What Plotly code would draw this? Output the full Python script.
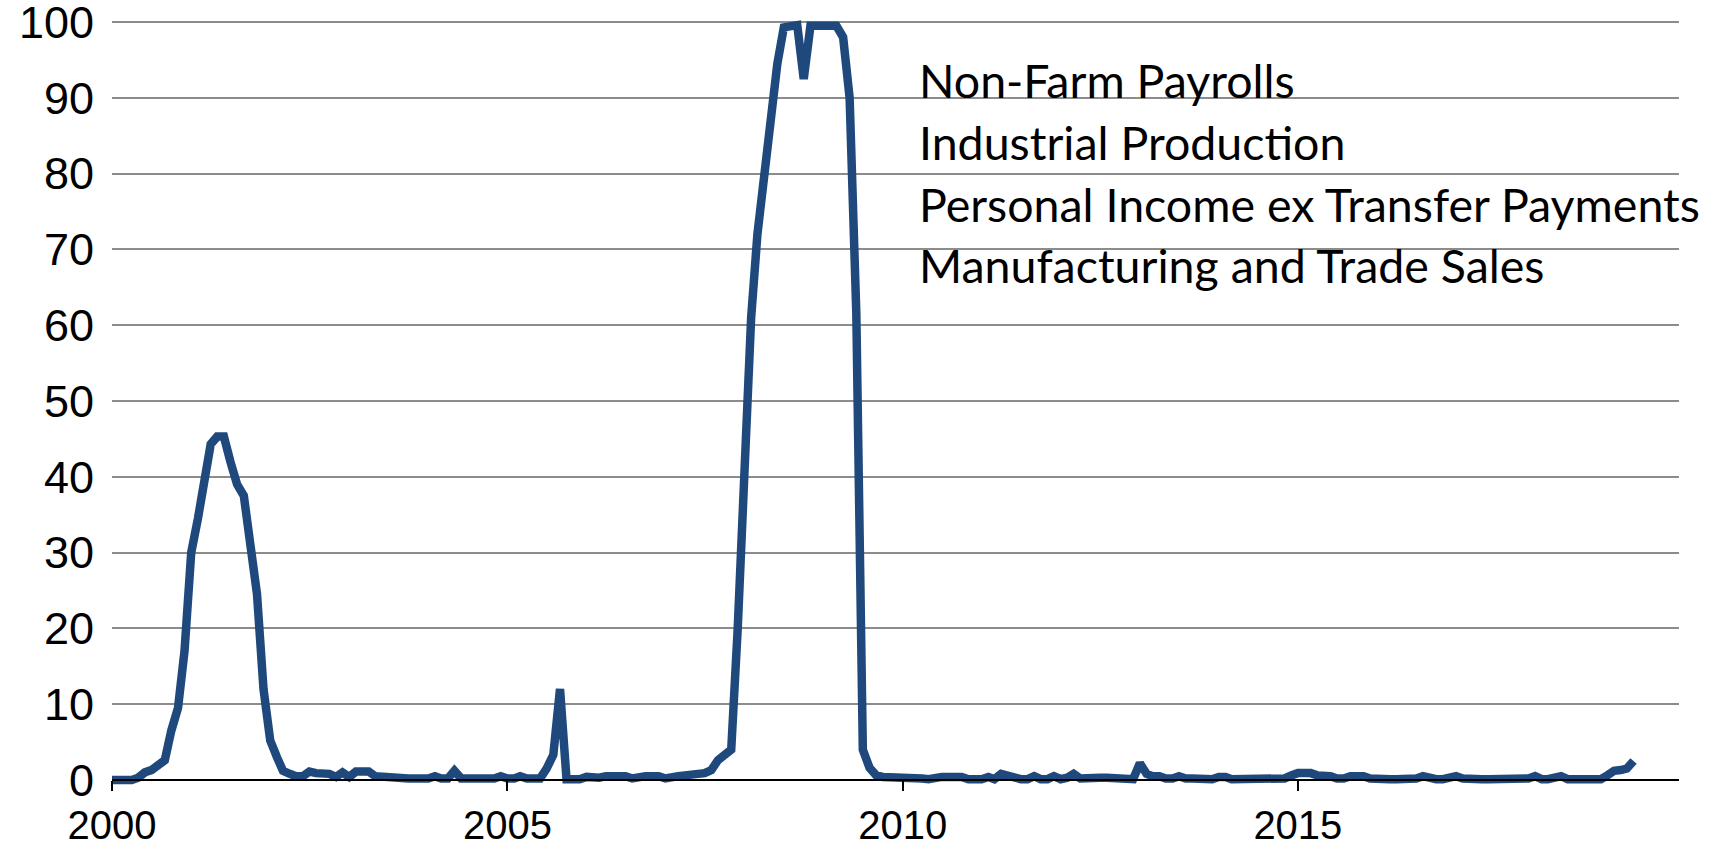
import pandas as pd
import plotly.graph_objects as go

# Monthly values starting January 2000
start_date = "2000-01-01"
probability = [
    0, 0, 0, 0, 0.3, 1.0, 1.3, 1.8, 2.6, 6.5, 9.5, 17,
    30, 34.5, 39, 44.3, 45.3, 45.3, 42, 39, 37.5, 30, 24.5, 12,
    5.2, 3.0, 1.2, 0.8, 0.5, 0.5, 1.1, 0.9, 0.8, 0.8, 0.4, 1.0,
    0.4, 1.1, 1.1, 1.1, 0.5, 0.4, 0.4, 0.4, 0.2, 0.2, 0.2, 0.2,
    0.2, 0.5, 0.2, 0.2, 1.2, 0.2, 0.2, 0.2, 0.2, 0.2, 0.2, 0.5,
    0.2, 0.2, 0.5, 0.2, 0.2, 0.2, 1.5, 3.3, 12.0, 0.1, 0.1, 0.1,
    0.4, 0.2, 0.3, 0.5, 0.5, 0.5, 0.5, 0.2, 0.5, 0.5, 0.5, 0.5,
    0.2, 0.5, 0.5, 0.6, 0.8, 0.8, 0.9, 1.3, 2.6, 3.3, 4.0, 20,
    41, 61, 72, 79.5, 87, 94.5, 99.3, 99.5, 99.6, 92.5, 99.5, 99.5,
    99.5, 99.5, 99.5, 98, 90, 61.5, 4.0, 1.6, 0.6, 0.4, 0.4, 0.4,
    0.4, 0.4, 0.4, 0.2, 0.1, 0.4, 0.4, 0.4, 0.4, 0.4, 0.1, 0.1,
    0.1, 0.4, 0.1, 0.8, 0.5, 0.4, 0.1, 0.1, 0.5, 0.1, 0.1, 0.5,
    0.1, 0.3, 0.8, 0.2, 0.3, 0.3, 0.3, 0.3, 0.3, 0.1, 0.1, 0.1,
    2.2, 0.8, 0.5, 0.5, 0.2, 0.2, 0.5, 0.2, 0.2, 0.1, 0.1, 0.1,
    0.4, 0.4, 0.1, 0.1, 0.1, 0.1, 0.1, 0.1, 0.1, 0.1, 0.2, 0.6,
    0.9, 0.9, 0.9, 0.6, 0.6, 0.5, 0.2, 0.2, 0.5, 0.6, 0.5, 0.2,
    0.1, 0.1, 0.1, 0.1, 0.1, 0.1, 0.2, 0.5, 0.2, 0.1, 0.1, 0.4,
    0.5, 0.2, 0.1, 0.1, 0.1, 0.1, 0.1, 0.1, 0.1, 0.1, 0.1, 0.2,
    0.5, 0.1, 0.1, 0.2, 0.5, 0.1, 0.1, 0.1, 0.1, 0.1, 0.1, 0.6,
    1.2, 1.3, 1.5, 2.5,
]
dates = pd.date_range(start_date, periods=len(probability), freq="MS")

y_ticks = list(range(0, 101, 10))
x_tick_years = ["2000", "2005", "2010", "2015"]
legend_lines = [
    "Non-Farm Payrolls",
    "Industrial Production",
    "Personal Income ex Transfer Payments",
    "Manufacturing and Trade Sales",
]
legend_y = [92.4, 84.2, 76.0, 67.9]

Y_MIN, Y_MAX = -0.8, 100.8

fig = go.Figure()
fig.add_trace(go.Scatter(
    x=dates, y=probability, mode="lines",
    line=dict(color="#1f497d", width=8.5),
    showlegend=False, hoverinfo="x+y",
))

for txt, yv in zip(legend_lines, legend_y):
    fig.add_annotation(
        x=0.5135, xref="paper", xanchor="left",
        y=yv, yref="y", yanchor="middle",
        text=txt, showarrow=False,
        font=dict(family="Lato, Open Sans, sans-serif", size=46.5, color="black"),
    )

fig.update_layout(
    width=1721, height=846,
    margin=dict(l=112, r=42, t=16, b=60),
    paper_bgcolor="white", plot_bgcolor="white",
    xaxis=dict(
        type="date",
        range=["2000-01-01", "2019-10-28"],
        anchor="free",
        position=(0 - Y_MIN) / (Y_MAX - Y_MIN),
        automargin=False,
        showgrid=False, zeroline=False,
        showline=True, linecolor="black", linewidth=2,
        ticks="outside", ticklen=10, tickwidth=2, tickcolor="black",
        tickvals=[f"{yr}-01-01" for yr in x_tick_years],
        ticktext=x_tick_years,
        tickfont=dict(family="Liberation Sans, Arial, sans-serif", size=40, color="black"),
        ticklabelstandoff=0,
        ticklabeloverflow="allow",
    ),
    yaxis=dict(
        range=[Y_MIN, Y_MAX],
        automargin=False,
        tickvals=y_ticks,
        showgrid=True, gridcolor="#8c8c8c", gridwidth=2,
        zeroline=False, showline=False,
        tickfont=dict(family="Liberation Sans, Arial, sans-serif", size=45, color="black"),
        ticklabelstandoff=17,
        ticklabeloverflow="allow",
    ),
)

fig.write_html(
    "out.html",
    config={"displayModeBar": False},
    post_script="document.body.style.margin='0';",
)
